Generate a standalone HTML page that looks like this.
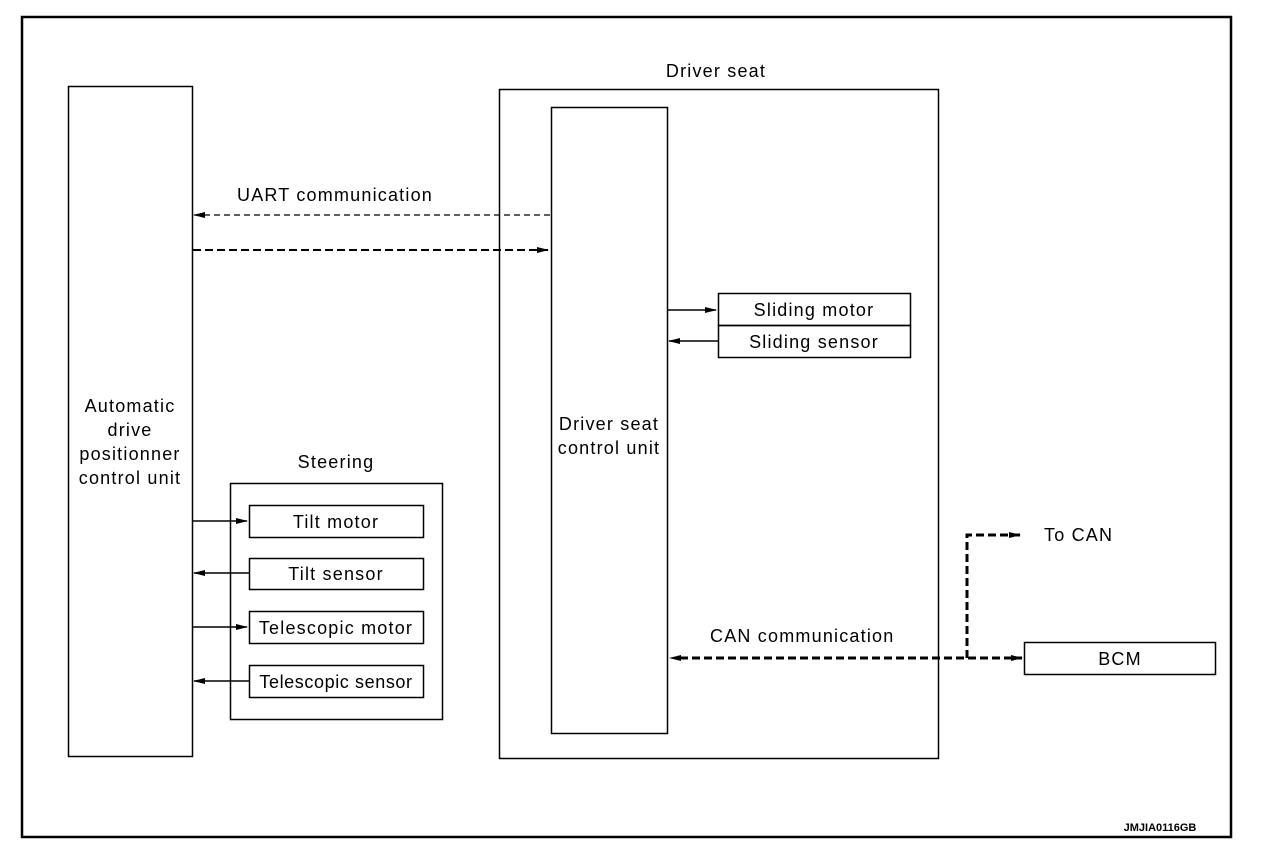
<!DOCTYPE html>
<html><head><style>body{margin:0;background:#fff}svg{display:block}text{font-family:"Liberation Sans",Arial,sans-serif;font-size:18px;letter-spacing:1.2px;fill:#000}</style></head>
<body>
<svg width="1280" height="862" viewBox="0 0 1280 862">
<defs>
<marker id="a" markerWidth="12" markerHeight="8" refX="11" refY="4" orient="auto" markerUnits="userSpaceOnUse"><path d="M0,1 L12,4 L0,7 z" fill="#000"/></marker>
</defs>
<g fill="none" stroke="#000">
<rect x="22" y="17" width="1209" height="820" stroke-width="2.5"/>
<rect x="68.5" y="86.5" width="124" height="670" stroke-width="1.5"/>
<rect x="499.5" y="89.5" width="439" height="669" stroke-width="1.5"/>
<rect x="551.5" y="107.5" width="116" height="626" stroke-width="1.5"/>
<rect x="718.5" y="293.5" width="192" height="32" stroke-width="1.5"/>
<rect x="718.5" y="325.5" width="192" height="32" stroke-width="1.5"/>
<rect x="230.5" y="483.5" width="212" height="236" stroke-width="1.5"/>
<rect x="249.5" y="505.5" width="174" height="32" stroke-width="1.5"/>
<rect x="249.5" y="558.5" width="174" height="31" stroke-width="1.5"/>
<rect x="249.5" y="611.5" width="174" height="32" stroke-width="1.5"/>
<rect x="249.5" y="665.5" width="174" height="32" stroke-width="1.5"/>
<rect x="1024.5" y="642.5" width="191" height="32" stroke-width="1.5"/>
<line x1="550" y1="215" x2="194" y2="215" stroke-width="1.2" stroke-dasharray="6,4" marker-end="url(#a)"/>
<line x1="193" y1="250" x2="548" y2="250" stroke-width="2" stroke-dasharray="8,4" marker-end="url(#a)"/>
<line x1="668" y1="310" x2="716" y2="310" stroke-width="1.5" marker-end="url(#a)"/>
<line x1="718" y1="341" x2="669" y2="341" stroke-width="1.5" marker-end="url(#a)"/>
<line x1="193" y1="521" x2="247" y2="521" stroke-width="1.5" marker-end="url(#a)"/>
<line x1="249" y1="573" x2="194" y2="573" stroke-width="1.5" marker-end="url(#a)"/>
<line x1="193" y1="627" x2="247" y2="627" stroke-width="1.5" marker-end="url(#a)"/>
<line x1="249" y1="681" x2="194" y2="681" stroke-width="1.5" marker-end="url(#a)"/>
<line x1="680" y1="658" x2="1022" y2="658" stroke-width="3" stroke-dasharray="8,4" marker-end="url(#a)"/>
<path d="M669,658 L681,655 L681,661 z" fill="#000" stroke="none"/>
<polyline points="967,658 967,535 1020,535" stroke-width="3" stroke-dasharray="8,4" marker-end="url(#a)"/>
</g>
<text x="716" y="77" text-anchor="middle">Driver seat</text>
<text x="237" y="201">UART communication</text>
<text x="130" y="412" text-anchor="middle">Automatic</text>
<text x="130" y="436" text-anchor="middle">drive</text>
<text x="130" y="460" text-anchor="middle">positionner</text>
<text x="130" y="484" text-anchor="middle">control unit</text>
<text x="609" y="430" text-anchor="middle">Driver seat</text>
<text x="609" y="454" text-anchor="middle">control unit</text>
<text x="814" y="316" text-anchor="middle">Sliding motor</text>
<text x="814" y="348" text-anchor="middle">Sliding sensor</text>
<text x="336" y="468" text-anchor="middle">Steering</text>
<text x="336" y="528" text-anchor="middle">Tilt motor</text>
<text x="336" y="580" text-anchor="middle">Tilt sensor</text>
<text x="336" y="634" text-anchor="middle">Telescopic motor</text>
<text x="336" y="688" text-anchor="middle" style="letter-spacing:0.6px">Telescopic sensor</text>
<text x="710" y="642">CAN communication</text>
<text x="1044" y="541">To CAN</text>
<text x="1120" y="665" text-anchor="middle">BCM</text>
<text x="1160" y="831" text-anchor="middle" style="font-size:11px;font-weight:bold;letter-spacing:0">JMJIA0116GB</text>
</svg>
</body></html>
